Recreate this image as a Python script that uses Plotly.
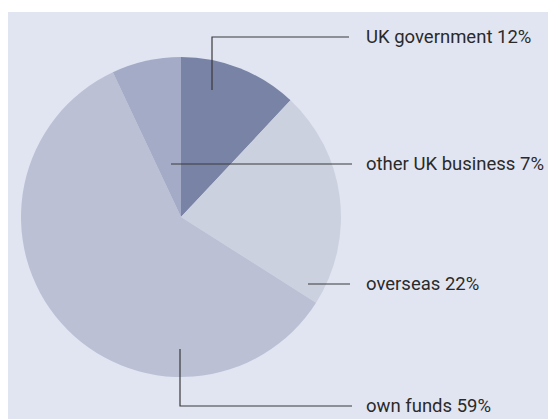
import plotly.graph_objects as go

# Sources of funding (percent of total)
labels = ["UK government", "overseas", "own funds", "other UK business"]
values = [12, 22, 59, 7]
colors = ["#7883A6", "#CCD1E0", "#BBC0D4", "#A4ABC6"]

W, H = 548, 419


def px(x):
    return x / W


def py(y):
    return 1 - y / H


# pie centre and radius in pixels
cx, cy, r = 181, 217, 160

fig = go.Figure(
    go.Pie(
        labels=labels,
        values=values,
        sort=False,
        direction="clockwise",
        rotation=0,
        marker=dict(colors=colors, line=dict(width=0)),
        textinfo="none",
        hoverinfo="label+percent",
        showlegend=False,
        domain=dict(x=[px(cx - r), px(cx + r)], y=[py(cy + r), py(cy - r)]),
    )
)

line_style = dict(color="#3a3a3a", width=1.2)
shapes = [
    # panel background
    dict(type="rect", xref="paper", yref="paper", x0=px(8), x1=1.0, y0=0.0, y1=py(12),
         fillcolor="#E1E5F2", line=dict(width=0), layer="below"),
    # UK government leader
    dict(type="path", xref="paper", yref="paper",
         path=f"M {px(212)} {py(90)} L {px(212)} {py(37)} L {px(349)} {py(37)}",
         line=line_style),
    # other UK business leader
    dict(type="line", xref="paper", yref="paper", x0=px(171), x1=px(352), y0=py(164), y1=py(164),
         line=line_style),
    # overseas leader
    dict(type="line", xref="paper", yref="paper", x0=px(308), x1=px(350), y0=py(284), y1=py(284),
         line=line_style),
    # own funds leader
    dict(type="path", xref="paper", yref="paper",
         path=f"M {px(180)} {py(349)} L {px(180)} {py(406)} L {px(352)} {py(406)}",
         line=line_style),
]

label_y = {"UK government": 37, "other UK business": 164, "overseas": 284, "own funds": 406}
annotations = []
for lab, val in zip(labels, values):
    annotations.append(dict(
        xref="paper", yref="paper", x=px(364), y=py(label_y[lab]),
        text=f"{lab} {val}%", showarrow=False, xanchor="left", yanchor="middle",
        font=dict(family="Roboto, sans-serif", size=18.5, color="#2a2a2a"),
    ))

fig.update_layout(
    width=W, height=H,
    margin=dict(l=0, r=0, t=0, b=0),
    paper_bgcolor="white",
    plot_bgcolor="white",
    shapes=shapes,
    annotations=annotations,
)

fig.write_html("out.html")
